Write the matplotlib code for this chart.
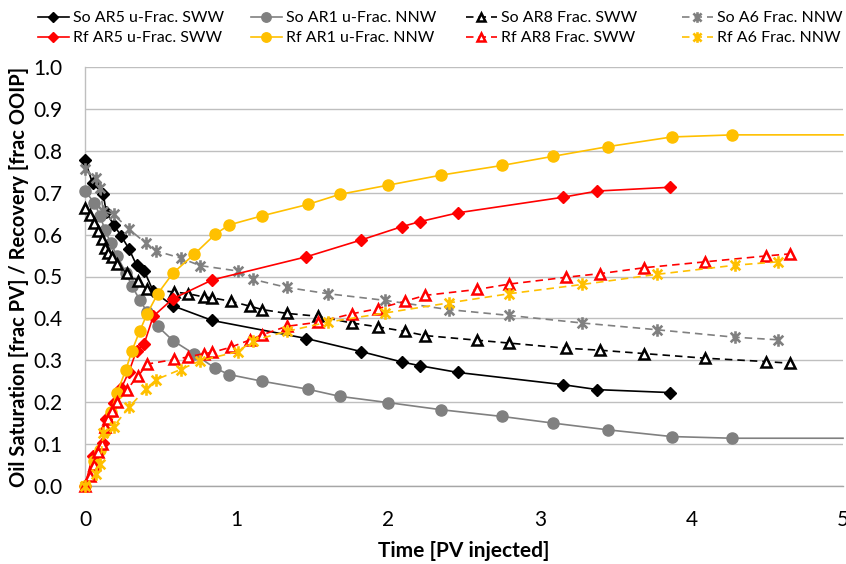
import matplotlib
matplotlib.use("Agg")
import matplotlib.pyplot as plt
from matplotlib.path import Path

plt.rcParams['font.family'] = ['Lato', 'DejaVu Sans']

# ---- data: AR5 unfractured, SWW ----
x_ar5 = [0, 0.05, 0.12, 0.14, 0.19, 0.24, 0.29, 0.34, 0.39, 0.45, 0.58, 0.84,
         1.46, 1.82, 2.09, 2.21, 2.46, 3.15, 3.38, 3.86]
so_ar5 = [0.778, 0.722, 0.698, 0.653, 0.623, 0.596, 0.566, 0.527, 0.514, 0.465,
          0.430, 0.395, 0.352, 0.321, 0.296, 0.287, 0.271, 0.242, 0.230, 0.223]
rf_ar5 = [0.0, 0.072, 0.103, 0.160, 0.199, 0.234, 0.273, 0.323, 0.339, 0.405,
          0.447, 0.492, 0.547, 0.587, 0.619, 0.631, 0.652, 0.689, 0.704, 0.713]

# ---- data: AR1 unfractured, NNW ----
x_ar1 = [0, 0.06, 0.10, 0.13, 0.17, 0.21, 0.27, 0.31, 0.36, 0.41, 0.48, 0.58,
         0.72, 0.86, 0.95, 1.17, 1.47, 1.68, 2.00, 2.35, 2.75, 3.09, 3.45, 3.87,
         4.27, 5.00]
so_ar1 = [0.705, 0.676, 0.645, 0.612, 0.580, 0.549, 0.509, 0.477, 0.445, 0.415,
          0.381, 0.347, 0.315, 0.281, 0.266, 0.250, 0.231, 0.214, 0.199, 0.182,
          0.166, 0.150, 0.134, 0.118, 0.114, 0.114]
rf_ar1 = [0.0, 0.060, 0.085, 0.132, 0.177, 0.221, 0.278, 0.323, 0.369, 0.411,
          0.459, 0.508, 0.553, 0.601, 0.623, 0.645, 0.672, 0.696, 0.718, 0.742,
          0.765, 0.787, 0.810, 0.833, 0.838, 0.838]

# ---- data: AR8 fractured, SWW ----
x_ar8 = [0, 0.03, 0.06, 0.085, 0.11, 0.13, 0.155, 0.175, 0.21, 0.275, 0.35,
         0.41, 0.59, 0.68, 0.785, 0.84, 0.96, 1.09, 1.17, 1.33, 1.54, 1.76,
         1.93, 2.11, 2.245, 2.585, 2.80, 3.17, 3.40, 3.69, 4.09, 4.49, 4.65]
so_ar8 = [0.664, 0.646, 0.628, 0.608, 0.589, 0.569, 0.557, 0.546, 0.529, 0.509,
          0.489, 0.469, 0.463, 0.459, 0.451, 0.449, 0.441, 0.429, 0.421, 0.412,
          0.405, 0.389, 0.380, 0.369, 0.359, 0.348, 0.341, 0.329, 0.324, 0.316,
          0.305, 0.297, 0.293]
rf_ar8 = [0.0, 0.025, 0.050, 0.080, 0.100, 0.140, 0.160, 0.180, 0.200, 0.230,
          0.262, 0.291, 0.302, 0.308, 0.316, 0.319, 0.331, 0.349, 0.361, 0.381,
          0.391, 0.411, 0.423, 0.441, 0.455, 0.469, 0.482, 0.498, 0.507, 0.521,
          0.535, 0.549, 0.554]

# ---- data: A6 fractured, NNW ----
x_a6 = [0, 0.07, 0.10, 0.12, 0.19, 0.29, 0.40, 0.47, 0.63, 0.76, 1.01, 1.11,
        1.33, 1.60, 1.98, 2.40, 2.80, 3.28, 3.77, 4.29, 4.57]
so_a6 = [0.756, 0.735, 0.712, 0.656, 0.648, 0.613, 0.580, 0.561, 0.544, 0.526,
         0.513, 0.493, 0.474, 0.459, 0.443, 0.421, 0.407, 0.389, 0.373, 0.355,
         0.349]
rf_a6 = [0.0, 0.028, 0.052, 0.126, 0.142, 0.188, 0.231, 0.254, 0.278, 0.299,
         0.321, 0.347, 0.369, 0.391, 0.413, 0.437, 0.459, 0.481, 0.505, 0.527,
         0.535]

x_ticks = [0, 1, 2, 3, 4, 5]
y_ticks = [0.0, 0.1, 0.2, 0.3, 0.4, 0.5, 0.6, 0.7, 0.8, 0.9, 1.0]

BLACK = '#000000'
GRAY = '#808080'
RED = '#ff0000'
GOLD = '#ffc000'

# asterisk-style marker: X crossed by a vertical bar
star = Path([(-1, -1), (1, 1), (-1, 1), (1, -1), (0, -1.3), (0, 1.3)],
            [Path.MOVETO, Path.LINETO] * 3)

fig = plt.figure(figsize=(8.46, 5.64), dpi=100)
ax = fig.add_axes([85 / 846, 1 - 486 / 564, (843 - 85) / 846, (486 - 67) / 564])

dash = (0, (4.5, 3))

def series(x, y, label, color, marker, ms, ls, mfc=None, mew=1.0, n_mark=None):
    me = None if n_mark is None else list(range(n_mark))
    line, = ax.plot(x, y, color=color, lw=1.2, ls=ls, marker=marker, ms=ms,
                    mfc=color if mfc is None else mfc, mec=color, mew=mew,
                    markevery=me, label=label, clip_on=False, zorder=3)
    return line

h = {}
h['so5'] = series(x_ar5, so_ar5, 'So AR5 u-Frac. SWW', BLACK, 'D', 6, '-')
h['so1'] = series(x_ar1, so_ar1, 'So AR1 u-Frac. NNW', GRAY, 'o', 8, '-',
                  n_mark=len(x_ar1) - 1)
h['so8'] = series(x_ar8, so_ar8, 'So AR8 Frac. SWW', BLACK, '^', 7.5, dash,
                  mfc='white', mew=1.8)
h['so6'] = series(x_a6, so_a6, 'So A6 Frac. NNW', GRAY, star, 9, dash, mew=1.9)
h['rf5'] = series(x_ar5, rf_ar5, 'Rf AR5 u-Frac. SWW', RED, 'D', 6, '-')
h['rf1'] = series(x_ar1, rf_ar1, 'Rf AR1 u-Frac. NNW', GOLD, 'o', 8, '-',
                  n_mark=len(x_ar1) - 1)
h['rf8'] = series(x_ar8, rf_ar8, 'Rf AR8 Frac. SWW', RED, '^', 7.5, dash,
                  mfc='white', mew=1.8)
h['rf6'] = series(x_a6, rf_a6, 'Rf A6 Frac. NNW', GOLD, star, 9, dash, mew=1.9)

ax.set_xlim(0, 5)
ax.set_ylim(0, 1.0)
ax.set_xticks(x_ticks)
ax.set_xticklabels([str(t) for t in x_ticks])
ax.set_yticks(y_ticks)
ax.set_yticklabels([f'{t:.1f}' for t in y_ticks])
ax.tick_params(axis='both', length=0, labelsize=15, colors='#000000')
ax.tick_params(axis='x', pad=17)
ax.tick_params(axis='y', pad=16)
for lab in ax.get_xticklabels():
    lab.set_clip_on(False)

ax.grid(axis='y', color='#bfbfbf', lw=1.0)
ax.set_axisbelow(True)
for s in ['top', 'right']:
    ax.spines[s].set_visible(False)
ax.spines['left'].set_color('#bfbfbf')
ax.spines['bottom'].set_color('#a6a6a6')
ax.spines['left'].set_linewidth(1.0)
ax.spines['bottom'].set_linewidth(1.0)

ax.set_xlabel('Time [PV injected]', fontsize=15, fontweight='bold', labelpad=8)
ax.set_ylabel('Oil Saturation [frac PV] / Recovery [frac OOIP]', fontsize=14.5,
              fontweight='bold', labelpad=3)

# legend: four columns, each holding an So / Rf pair
pairs = [('so5', 'rf5'), ('so1', 'rf1'), ('so8', 'rf8'), ('so6', 'rf6')]
col_x = [27, 240, 455, 671]
for (a, b), xl in zip(pairs, col_x):
    fig.legend([h[a], h[b]], [h[a].get_label(), h[b].get_label()],
               loc='upper left', bbox_to_anchor=(xl / 846, 1),
               frameon=False, fontsize=11.5, handlelength=1.9,
               handletextpad=0.25, labelspacing=0.35, borderpad=0.2,
               markerscale=0.85)

fig.savefig('out.png', dpi=100)
